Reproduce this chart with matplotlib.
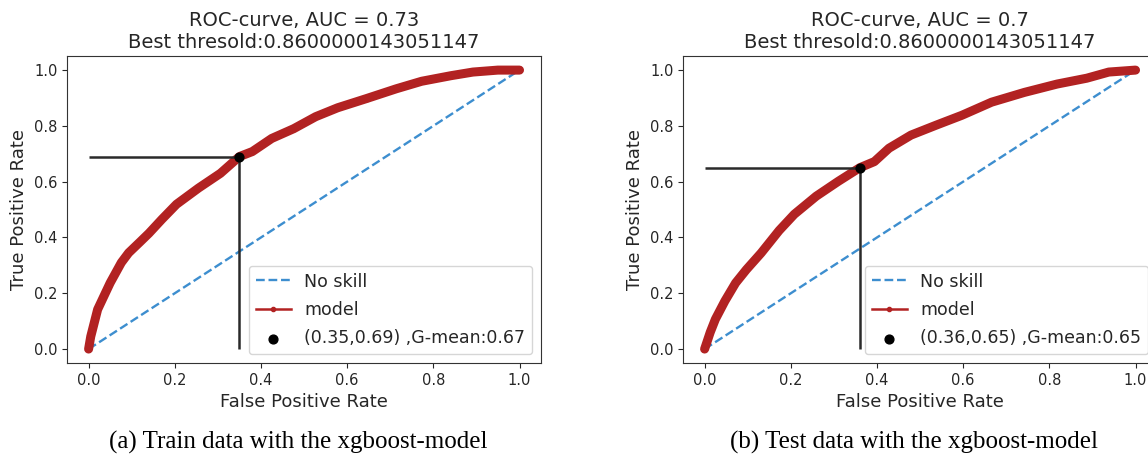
import matplotlib
matplotlib.use("Agg")
import matplotlib.pyplot as plt

# ROC curve of the train set
train_fpr = [0.0, 0.005, 0.021, 0.05, 0.076, 0.093, 0.12, 0.14, 0.17, 0.204, 0.255,
             0.306, 0.35, 0.38, 0.425, 0.476, 0.527, 0.578, 0.645, 0.714, 0.773,
             0.841, 0.892, 0.95, 1.0]
train_tpr = [0.0, 0.045, 0.142, 0.237, 0.31, 0.345, 0.385, 0.415, 0.465, 0.519, 0.577,
             0.63, 0.69, 0.708, 0.755, 0.79, 0.833, 0.865, 0.898, 0.933, 0.96,
             0.98, 0.993, 1.0, 1.0]

# ROC curve of the test set
test_fpr = [0.0, 0.013, 0.025, 0.047, 0.072, 0.097, 0.131, 0.173, 0.208, 0.259, 0.31,
            0.36, 0.394, 0.428, 0.479, 0.538, 0.597, 0.666, 0.742, 0.818, 0.887,
            0.938, 1.0]
test_tpr = [0.0, 0.06, 0.107, 0.172, 0.237, 0.285, 0.344, 0.425, 0.483, 0.548, 0.601,
            0.65, 0.672, 0.72, 0.767, 0.803, 0.838, 0.885, 0.92, 0.95, 0.971,
            0.993, 1.0]

best_pts = [(0.35, 0.69), (0.36, 0.65)]
auc_vals = ["0.73", "0.7"]
gmeans = ["0.67", "0.65"]
threshold = "0.8600000143051147"
captions = ["(a) Train data with the xgboost-model", "(b) Test data with the xgboost-model"]

text_col = "#262626"
plt.rcParams["font.family"] = "DejaVu Sans"
plt.rcParams["text.color"] = text_col
plt.rcParams["axes.labelcolor"] = text_col
plt.rcParams["xtick.color"] = text_col
plt.rcParams["ytick.color"] = text_col
plt.rcParams["axes.edgecolor"] = "#333333"

fig = plt.figure(figsize=(11.48, 4.58), dpi=100)
ax_left = [0.0584, 0.595]
curves = [(train_fpr, train_tpr), (test_fpr, test_tpr)]

for i in range(2):
    ax = fig.add_axes([ax_left[i], 0.2074, 0.4129, 0.670])
    fpr, tpr = curves[i]
    bx, by = best_pts[i]
    ax.plot([0, 1], [0, 1], linestyle="--", color="#3d8ecf", lw=1.7, label="No skill")
    ax.plot(fpr, tpr, color="firebrick", lw=6.5, solid_capstyle="round",
            solid_joinstyle="round")
    ax.plot(fpr, tpr, color="firebrick", lw=1.8, marker=".", markersize=6, label="model")
    ax.hlines(by, 0, bx, color="#2a2a2a", lw=1.8)
    ax.vlines(bx, 0, by, color="#2a2a2a", lw=1.8)
    ax.scatter([bx], [by], color="black", s=40, zorder=5,
               label="(%s,%s) ,G-mean:%s" % (bx, by, gmeans[i]))
    ax.set_title("ROC-curve, AUC = %s\nBest thresold:%s" % (auc_vals[i], threshold),
                 fontsize=14, pad=6)
    ax.set_xlabel("False Positive Rate", fontsize=13)
    ax.set_ylabel("True Positive Rate", fontsize=13)
    ax.tick_params(labelsize=10.5)
    ax.legend(loc="lower right", fontsize=12.5, labelspacing=0.6)
    center = ax_left[i] + 0.4129 / 2 - 0.005
    fig.text(center, 0.035, captions[i], ha="center", va="center",
             family="Liberation Serif", fontsize=18, color="black")

fig.savefig("out.png", dpi=100)
